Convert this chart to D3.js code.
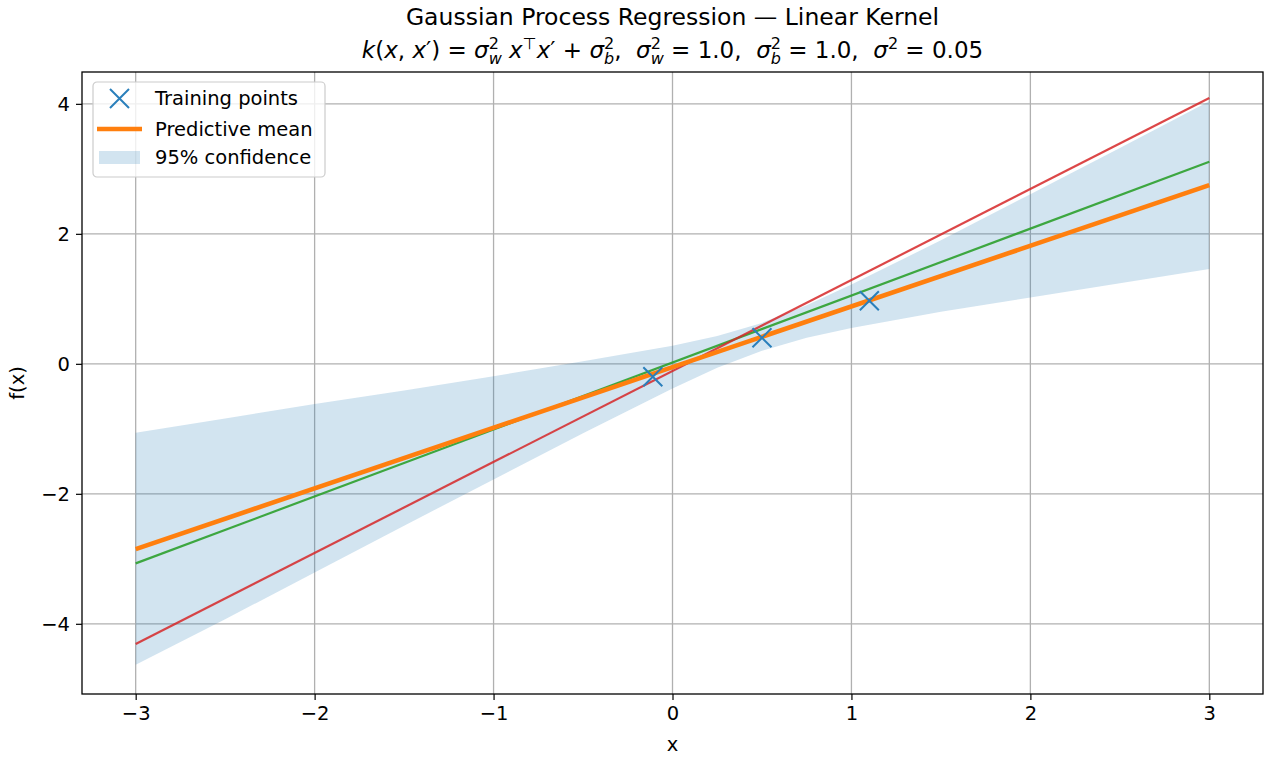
<!DOCTYPE html>
<html>
<head>
<meta charset="utf-8">
<script src="https://cdn.jsdelivr.net/npm/d3@7"></script>
<style>
  body { margin: 0; background: #fff; }
  svg { display: block; font-family: "DejaVu Sans", sans-serif; }
</style>
</head>
<body>
<svg id="chart"></svg>
<script>
// values
const xTicks = [-3, -2, -1, 0, 1, 2, 3];
const yTicks = [-4, -2, 0, 2, 4];

const trainX = [-0.11, 0.50, 1.10];
const trainY = [-0.20, 0.40, 0.97];

const bandX = [-3, -2.5, -2, -1.5, -1, -0.5, 0, 0.25, 0.5, 0.75, 1, 1.5, 2, 2.5, 3];
const bandUpper = [-1.06, -0.84, -0.62, -0.41, -0.19, 0.04, 0.28, 0.43, 0.63, 0.90, 1.22, 1.90, 2.61, 3.32, 4.04];
const bandLower = [-4.63, -3.93, -3.21, -2.49, -1.78, -1.07, -0.38, -0.06, 0.20, 0.40, 0.55, 0.80, 1.02, 1.24, 1.46];

const lineX = [-3, 3];
const meanY = [-2.85, 2.75];
const sampleGreenY = [-3.07, 3.11];
const sampleRedY = [-4.31, 4.09];

const W = 1270, H = 759;
const margin = { left: 82, right: 7, top: 72, bottom: 65 };
const iw = W - margin.left - margin.right;
const ih = H - margin.top - margin.bottom;

const svg = d3.select('#chart').attr('width', W).attr('height', H);

const x = d3.scaleLinear().domain([-3.3, 3.3]).range([0, iw]);
const y = d3.scaleLinear().domain([-5.08, 4.49]).range([ih, 0]);

const g = svg.append('g').attr('transform', `translate(${margin.left},${margin.top})`);

// grid
g.append('g').selectAll('line').data(xTicks).enter().append('line')
    .attr('x1', d => x(d)).attr('x2', d => x(d))
    .attr('y1', 0).attr('y2', ih)
    .attr('stroke', '#b0b0b0').attr('stroke-width', 1.3);
g.append('g').selectAll('line').data(yTicks).enter().append('line')
    .attr('y1', d => y(d)).attr('y2', d => y(d))
    .attr('x1', 0).attr('x2', iw)
    .attr('stroke', '#b0b0b0').attr('stroke-width', 1.3);

// confidence band
const band = bandX.map((d, i) => ({ x: d, lo: bandLower[i], hi: bandUpper[i] }));
g.append('path').datum(band)
    .attr('d', d3.area().x(d => x(d.x)).y0(d => y(d.lo)).y1(d => y(d.hi)))
    .attr('fill', '#1f77b4').attr('fill-opacity', 0.2);

const line = d3.line().x(d => x(d[0])).y(d => y(d[1]));
const pairs = ys => lineX.map((d, i) => [d, ys[i]]);

g.append('path').datum(pairs(sampleGreenY)).attr('d', line)
    .attr('fill', 'none').attr('stroke', '#2ca02c').attr('stroke-width', 2.2).attr('stroke-opacity', 0.9);
g.append('path').datum(pairs(sampleRedY)).attr('d', line)
    .attr('fill', 'none').attr('stroke', '#d62728').attr('stroke-width', 2.2).attr('stroke-opacity', 0.85);
g.append('path').datum(pairs(meanY)).attr('d', line)
    .attr('fill', 'none').attr('stroke', '#ff7f0e').attr('stroke-width', 4.6);

// training points as x markers
const ms = 9.5;
const cross = (cx, cy, s) => `M${cx - s},${cy - s}L${cx + s},${cy + s}M${cx - s},${cy + s}L${cx + s},${cy - s}`;
g.append('g').selectAll('path').data(trainX.map((d, i) => [d, trainY[i]])).enter().append('path')
    .attr('d', d => cross(x(d[0]), y(d[1]), ms))
    .attr('stroke', '#2a7fbb').attr('stroke-width', 2).attr('fill', 'none');

// axes
const xAxis = g.append('g').attr('transform', `translate(0,${ih})`)
    .call(d3.axisBottom(x).tickValues(xTicks).tickSize(6).tickPadding(6)
        .tickFormat(d => d < 0 ? '\u2212' + Math.abs(d) : d));
const yAxis = g.append('g')
    .call(d3.axisLeft(y).tickValues(yTicks).tickSize(6).tickPadding(6)
        .tickFormat(d => d < 0 ? '\u2212' + Math.abs(d) : d));
[xAxis, yAxis].forEach(a => {
    a.select('.domain').remove();
    a.selectAll('line').attr('stroke', '#000').attr('stroke-width', 1.2);
    a.selectAll('text').attr('font-size', 19.5).attr('fill', '#000')
        .attr('font-family', '"DejaVu Sans", sans-serif');
});

g.append('rect').attr('width', iw).attr('height', ih)
    .attr('fill', 'none').attr('stroke', '#000').attr('stroke-width', 1.3);

// axis labels
svg.append('text').attr('x', margin.left + iw / 2).attr('y', 751)
    .attr('text-anchor', 'middle').attr('font-size', 19.5).text('x');
svg.append('text').attr('transform', `translate(24,${margin.top + ih / 2}) rotate(-90)`)
    .attr('text-anchor', 'middle').attr('font-size', 19.5).text('f(x)');

// title
const cx = margin.left + iw / 2;
svg.append('text').attr('x', cx).attr('y', 25).attr('text-anchor', 'middle')
    .attr('font-size', 23.5).text('Gaussian Process Regression \u2014 Linear Kernel');

const t2 = svg.append('text').attr('x', cx).attr('y', 58).attr('text-anchor', 'middle')
    .attr('font-size', 23);
let pendingDy = 0;
const span = (s, opts = {}) => {
    const sp = t2.append('tspan').text(s);
    if (opts.italic) sp.attr('font-style', 'italic');
    if (opts.size) sp.attr('font-size', opts.size);
    if (opts.dx) sp.attr('dx', opts.dx);
    const dy = pendingDy + (opts.dy || 0);
    if (dy) sp.attr('dy', dy);
    pendingDy = 0;
    return sp;
};
const it = s => span(s, { italic: true });
const rm = s => span(s);
const supsub = (sup, sub) => {
    const a = span(sup, { size: 16, dy: -9 });
    if (sub) {
        const w = a.node().getComputedTextLength();
        span(sub, { size: 16, italic: true, dx: -w, dy: 15 });
        pendingDy = -6;
    } else {
        pendingDy = 9;
    }
};
const sp2 = '\u00a0\u00a0';
it('k'); rm('('); it('x'); rm(',\u00a0'); it('x'); rm('\u2032) = ');
it('\u03c3'); supsub('2', 'w'); it('\u00a0x'); supsub('\u22a4'); it('x'); rm('\u2032 + ');
it('\u03c3'); supsub('2', 'b'); rm(',' + sp2);
it('\u03c3'); supsub('2', 'w'); rm(' = 1.0,' + sp2);
it('\u03c3'); supsub('2', 'b'); rm(' = 1.0,' + sp2);
it('\u03c3'); supsub('2'); rm(' = 0.05');

// legend
const lg = svg.append('g').attr('transform', 'translate(93,82)');
lg.append('rect').attr('width', 232).attr('height', 95).attr('rx', 4)
    .attr('fill', '#fff').attr('fill-opacity', 0.8).attr('stroke', '#cccccc').attr('stroke-width', 1.2);
const rows = [16.5, 47, 75.5];
lg.append('path').attr('d', cross(26.5, rows[0], ms)).attr('stroke', '#2a7fbb').attr('stroke-width', 2);
lg.append('line').attr('x1', 4).attr('x2', 49).attr('y1', rows[1]).attr('y2', rows[1])
    .attr('stroke', '#ff7f0e').attr('stroke-width', 4.6);
lg.append('rect').attr('x', 6).attr('y', rows[2] - 6.5).attr('width', 41).attr('height', 13)
    .attr('fill', '#1f77b4').attr('fill-opacity', 0.2);
['Training points', 'Predictive mean', '95% confidence'].forEach((s, i) => {
    lg.append('text').attr('x', 62).attr('y', rows[i]).attr('dy', '0.35em')
        .attr('font-size', 19.5).attr('fill', '#000').text(s);
});
</script>
</body>
</html>
